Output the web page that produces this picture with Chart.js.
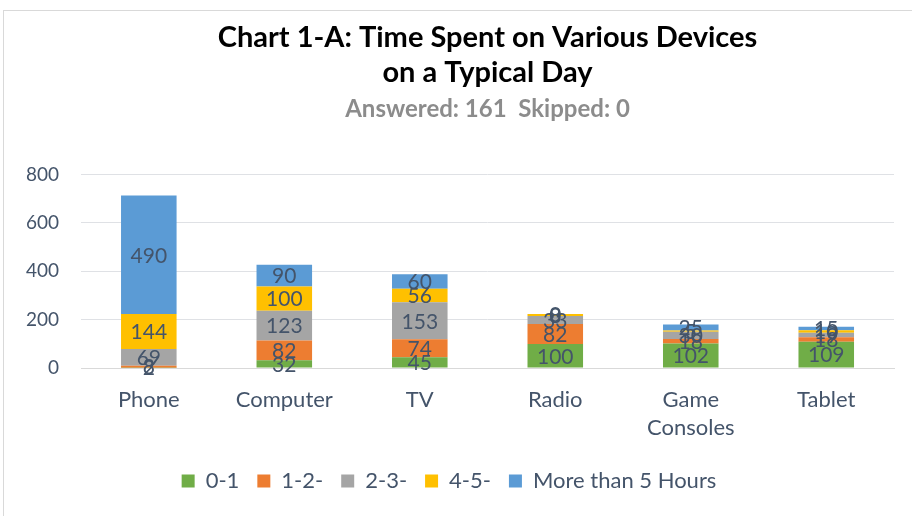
<!DOCTYPE html>
<html>
<head>
<meta charset="utf-8">
<script src="https://cdn.jsdelivr.net/npm/chart.js@4"></script>
<style>
  body { margin: 0; background: #fff; }
  #wrap { position: absolute; left: 3px; top: 10px; width: 908px; height: 505px; border: 1px solid #d9d9d9; border-right: none; border-bottom: none; }
</style>
</head>
<body>
<div id="wrap"><canvas id="myChart" width="908" height="505"></canvas></div>
<script>
const categories = ['Phone', 'Computer', 'TV', 'Radio', ['Game', 'Consoles'], 'Tablet'];
const seriesNames = ['0-1', '1-2-', '2-3-', '4-5-', 'More than 5 Hours'];
const h01 = [2, 32, 45, 100, 102, 109];
const h12 = [8, 82, 74, 82, 18, 18];
const h23 = [69, 123, 153, 33, 30, 19];
const h45 = [144, 100, 56, 8, 5, 10];
const h5plus = [490, 90, 60, 0, 25, 15];
const yTicks = [0, 200, 400, 600, 800];

const colors = ['#70ad47', '#ed7d31', '#a5a5a5', '#ffc000', '#5b9bd5'];
const values = [h01, h12, h23, h45, h5plus];
const textColor = '#44546a';

// draws the numbers in the middle of each segment
const valueLabels = {
  id: 'valueLabels',
  afterDatasetsDraw(chart) {
    const ctx = chart.ctx;
    ctx.save();
    ctx.font = '21px Lato';
    ctx.fillStyle = textColor;
    ctx.textAlign = 'center';
    ctx.textBaseline = 'middle';
    chart.data.datasets.forEach((ds, i) => {
      chart.getDatasetMeta(i).data.forEach((bar, j) => {
        const y = (bar.y + bar.base) / 2;
        ctx.fillText(ds.data[j], bar.x, y + 1);
      });
    });
    ctx.restore();
  }
};

const ctx = document.getElementById('myChart').getContext('2d');
new Chart(ctx, {
  type: 'bar',
  data: {
    labels: categories,
    datasets: seriesNames.map((name, i) => ({
      label: name,
      data: values[i],
      backgroundColor: colors[i],
      borderWidth: 0,
      categoryPercentage: 1,
      barPercentage: 0.41
    }))
  },
  options: {
    responsive: false,
    animation: false,
    layout: { padding: { left: 0, right: 18, top: 6, bottom: 14 } },
    plugins: {
      title: {
        display: true,
        fullSize: false,
        text: ['Chart 1-A: Time Spent on Various Devices', 'on a Typical Day'],
        font: { family: 'Lato', size: 29, weight: 'bold' },
        color: '#000',
        lineHeight: 1.36,
        padding: { top: 3, bottom: 0 }
      },
      subtitle: {
        display: true,
        fullSize: false,
        text: 'Answered: 161  Skipped: 0',
        font: { family: 'Lato', size: 24, weight: 'bold' },
        color: '#8c8c8c',
        padding: { top: 5, bottom: 51 }
      },
      legend: {
        position: 'bottom',
        labels: {
          font: { family: 'Lato', size: 22 },
          color: textColor,
          boxWidth: 13,
          boxHeight: 13,
          padding: 18
        }
      },
      tooltip: { enabled: false }
    },
    scales: {
      x: {
        stacked: true,
        grid: { display: false },
        border: { color: '#d9d9d9' },
        ticks: { font: { family: 'Lato', size: 22, lineHeight: 1.27 }, color: textColor, padding: 10 }
      },
      y: {
        stacked: true,
        min: 0,
        max: 800,
        afterBuildTicks(axis) { axis.ticks = yTicks.map(v => ({ value: v })); },
        grid: { color: '#dfe1e5', drawTicks: false },
        border: { display: false },
        ticks: { font: { family: 'Lato', size: 19 }, color: textColor, padding: 22 }
      }
    }
  },
  plugins: [valueLabels]
});
</script>
</body>
</html>
